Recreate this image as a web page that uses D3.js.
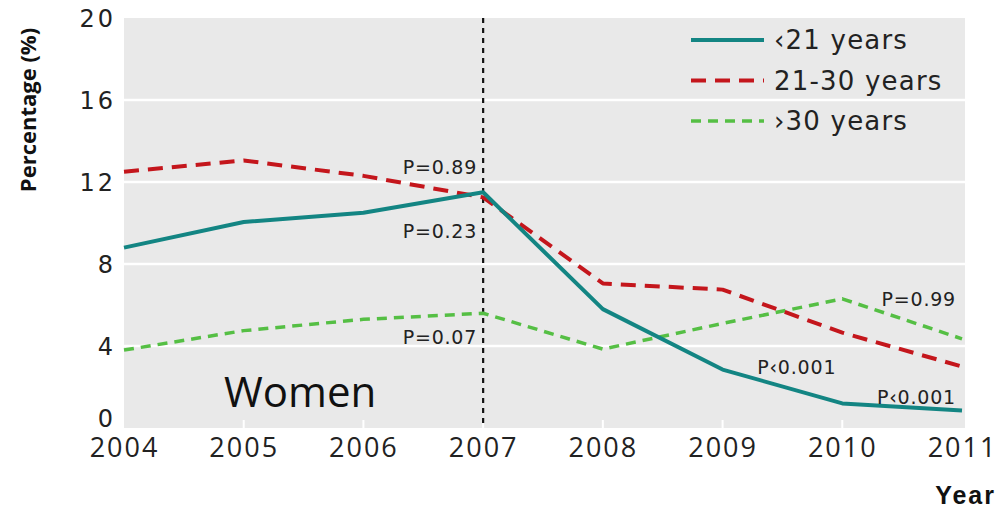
<!DOCTYPE html>
<html>
<head>
<meta charset="utf-8">
<script src="https://cdn.jsdelivr.net/npm/d3@7"></script>
<style>
  html, body { margin: 0; padding: 0; background: #fff; }
  svg { display: block; }
</style>
</head>
<body>
<svg id="chart" width="1001" height="509"></svg>
<script>
// Share of women by age group, 2004–2011
const years = [2004, 2005, 2006, 2007, 2008, 2009, 2010, 2011];
const under21 = [8.8, 10.05, 10.5, 11.5, 5.8, 2.85, 1.2, 0.85];
const age21to30 = [12.5, 13.05, 12.3, 11.25, 7.05, 6.75, 4.65, 3.0];
const over30 = [3.8, 4.75, 5.3, 5.6, 3.85, 5.1, 6.3, 4.35];
const yTicks = [0, 4, 8, 12, 16, 20];
const seriesNames = ["\u203921 years", "21-30 years", "\u203a30 years"];
const markerYear = 2007;

// P-value annotations: [year, value, text]
const pLabels = [
  [2007, 12.7, "P=0.89"],
  [2007, 9.6, "P=0.23"],
  [2007, 4.4, "P=0.07"],
  [2011, 6.3, "P=0.99"],
  [2010, 2.95, "P\u20390.001"],
  [2011, 1.5, "P\u20390.001"]
];

const svg = d3.select("#chart");
const plotLeft = 124, plotRight = 962, plotTop = 18, plotBottom = 428;

const x = d3.scaleLinear().domain([2004, 2011]).range([plotLeft, plotRight]);
const y = d3.scaleLinear().domain([0, 20]).range([plotBottom, plotTop]);

// plot background
svg.append("rect")
  .attr("x", plotLeft).attr("y", plotTop)
  .attr("width", plotRight - plotLeft + 3).attr("height", plotBottom - plotTop)
  .attr("fill", "#e9e9e9");

// horizontal grid
svg.append("g").selectAll("line").data(yTicks.filter(d => d > 0 && d < 20)).join("line")
  .attr("x1", plotLeft).attr("x2", plotRight + 3)
  .attr("y1", d => y(d)).attr("y2", d => y(d))
  .attr("stroke", "#fff").attr("stroke-width", 2.5);

// small vertical ticks at the base of the plot
svg.append("g").selectAll("line").data(years.slice(1, -1)).join("line")
  .attr("x1", d => x(d)).attr("x2", d => x(d))
  .attr("y1", plotBottom).attr("y2", plotBottom - 8)
  .attr("stroke", "#fff").attr("stroke-width", 2);

// y axis labels
const yAxis = d3.axisLeft(y).tickValues(yTicks).tickSize(0).tickPadding(0);
const gy = svg.append("g").attr("transform", `translate(${plotLeft - 8},0)`).call(yAxis);
gy.select(".domain").remove();
gy.selectAll("text")
  .attr("font-family", "DejaVu Sans, Verdana, sans-serif")
  .attr("font-size", 24).attr("fill", "#222")
  .attr("letter-spacing", 3)
  .attr("dy", "0.35em");
gy.selectAll(".tick").filter(d => d === 0).select("text").attr("dy", "-0.08em");

// x axis labels
const xAxis = d3.axisBottom(x).tickValues(years).tickFormat(d3.format("d")).tickSize(0).tickPadding(0);
const gx = svg.append("g").attr("transform", `translate(0,${plotBottom + 9})`).call(xAxis);
gx.select(".domain").remove();
gx.selectAll("text")
  .attr("font-family", "Open Sans, sans-serif")
  .attr("font-size", 27).attr("fill", "#222")
  .attr("letter-spacing", 2)
  .attr("dy", "0.75em");

// vertical reference line
svg.append("line")
  .attr("x1", x(markerYear)).attr("x2", x(markerYear))
  .attr("y1", plotTop).attr("y2", plotBottom)
  .attr("stroke", "#111").attr("stroke-width", 2.2)
  .attr("stroke-dasharray", "5,5");

// series
const series = [
  { name: seriesNames[0], values: under21, color: "#138583", width: 4, dash: null },
  { name: seriesNames[1], values: age21to30, color: "#c4161c", width: 4, dash: "15,9" },
  { name: seriesNames[2], values: over30, color: "#55bf44", width: 3.5, dash: "10,7" }
];
const line = d3.line().x((d, i) => x(years[i])).y(d => y(d));

// draw green, red, then teal on top
[2, 1, 0].forEach(k => {
  const s = series[k];
  svg.append("path")
    .datum(s.values)
    .attr("d", line)
    .attr("fill", "none")
    .attr("stroke", s.color)
    .attr("stroke-width", s.width)
    .attr("stroke-linejoin", "round")
    .attr("stroke-dasharray", s.dash);
});

// P-value labels
svg.append("g").selectAll("text").data(pLabels).join("text")
  .attr("x", d => x(d[0]) - 6)
  .attr("y", d => y(d[1]))
  .attr("text-anchor", "end")
  .attr("dy", "0.35em")
  .attr("font-family", "DejaVu Sans, Verdana, sans-serif")
  .attr("font-size", 19).attr("fill", "#222")
  .attr("letter-spacing", 0.8)
  .text(d => d[2]);

// legend
const lg = svg.append("g");
series.forEach((s, i) => {
  const ly = 40 + i * 40.5;
  lg.append("line")
    .attr("x1", 691).attr("x2", 764).attr("y1", ly).attr("y2", ly)
    .attr("stroke", s.color).attr("stroke-width", s.width)
    .attr("stroke-dasharray", s.dash);
  lg.append("text")
    .attr("x", 774).attr("y", ly).attr("dy", "0.35em")
    .attr("font-family", "DejaVu Sans, Verdana, sans-serif")
    .attr("font-size", 26).attr("fill", "#222")
    .attr("letter-spacing", 1.2)
    .text(s.name);
});

// panel title
svg.append("text")
  .attr("x", 224).attr("y", 407)
  .attr("font-family", "Open Sans, sans-serif")
  .attr("font-size", 42).attr("fill", "#111")
  .text("Women");

// axis titles
svg.append("text")
  .attr("transform", "translate(36,110) rotate(-90)")
  .attr("text-anchor", "middle")
  .attr("font-family", "Open Sans, sans-serif")
  .attr("font-weight", "bold")
  .attr("font-size", 22).attr("fill", "#111")
  .text("Percentage (%)");

svg.append("text")
  .attr("x", 996).attr("y", 504)
  .attr("text-anchor", "end")
  .attr("font-family", "Liberation Sans, Arial, sans-serif")
  .attr("font-weight", "bold")
  .attr("font-size", 25).attr("fill", "#111")
  .attr("letter-spacing", 2)
  .text("Year");
</script>
</body>
</html>
